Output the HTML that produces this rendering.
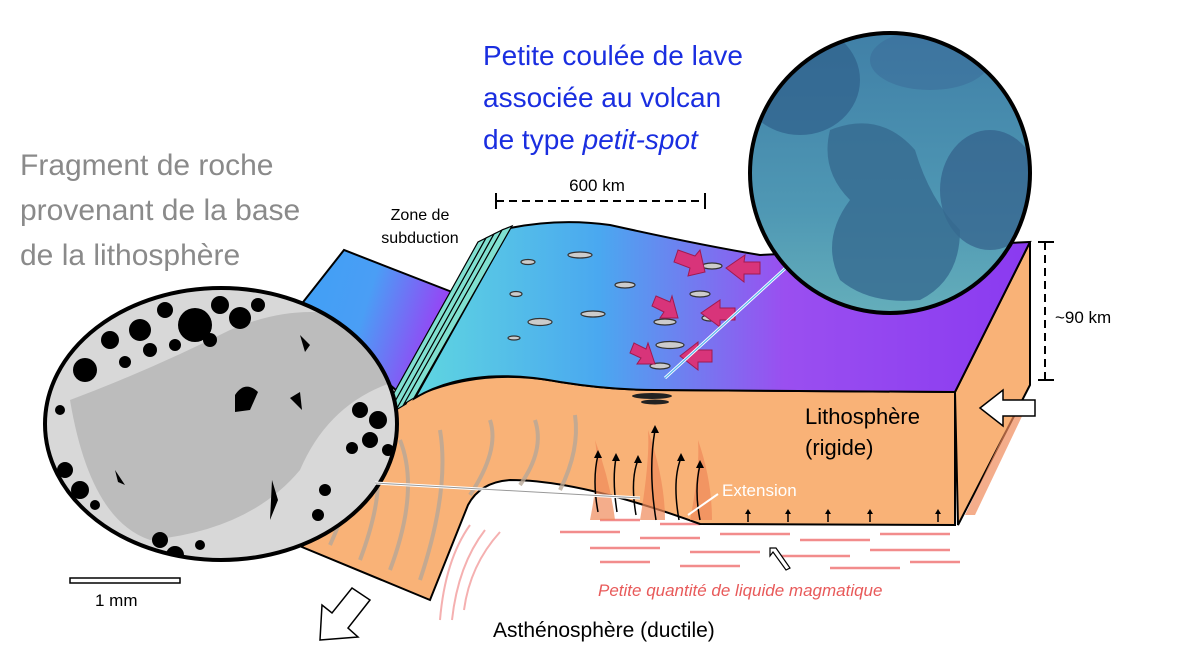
<!DOCTYPE html>
<html><head><meta charset="utf-8"><style>
html,body{margin:0;padding:0;background:#fff;}
svg{display:block;}
text{font-family:"Liberation Sans",sans-serif;}
</style></head><body>
<svg width="1195" height="671" viewBox="0 0 1195 671" xmlns="http://www.w3.org/2000/svg">
<defs>
<linearGradient id="top" x1="0" y1="0" x2="1" y2="0">
<stop offset="0" stop-color="#5fd6e0"/><stop offset="0.3" stop-color="#4aa8f0"/><stop offset="0.6" stop-color="#9a4ff0"/><stop offset="1" stop-color="#8a3af0"/></linearGradient>
<linearGradient id="lt" x1="0" y1="0" x2="1" y2="0.3">
<stop offset="0" stop-color="#3fa0f5"/><stop offset="0.5" stop-color="#4a9ef5"/><stop offset="1" stop-color="#9a40f5"/></linearGradient>
<linearGradient id="photo" x1="0" y1="0" x2="0" y2="1">
<stop offset="0" stop-color="#3f7ea6"/><stop offset="0.6" stop-color="#4f98b4"/><stop offset="1" stop-color="#6ab4bc"/></linearGradient>
<clipPath id="c1"><ellipse cx="221" cy="424" rx="176" ry="136"/></clipPath>
<clipPath id="c2"><circle cx="890" cy="173" r="140"/></clipPath>
</defs>

<!-- asthenosphere pink streaks -->
<g stroke="#f07070" stroke-width="2.5" opacity="0.8">
<line x1="560" y1="532" x2="620" y2="532"/><line x1="640" y1="538" x2="700" y2="538"/><line x1="720" y1="534" x2="790" y2="534"/>
<line x1="800" y1="540" x2="870" y2="540"/><line x1="880" y1="534" x2="950" y2="534"/><line x1="590" y1="548" x2="660" y2="548"/>
<line x1="690" y1="552" x2="760" y2="552"/><line x1="780" y1="556" x2="850" y2="556"/><line x1="870" y1="550" x2="950" y2="550"/>
<line x1="600" y1="562" x2="650" y2="562"/><line x1="680" y1="566" x2="740" y2="566"/><line x1="830" y1="568" x2="900" y2="568"/>
<line x1="910" y1="562" x2="960" y2="562"/><line x1="600" y1="520" x2="640" y2="520"/><line x1="660" y1="524" x2="700" y2="524"/>
</g>
<g stroke="#f5b0b0" stroke-width="2" fill="none">
<path d="M470 525 Q445 560 440 620"/><path d="M485 530 Q458 565 452 620"/><path d="M500 532 Q470 565 464 610"/>
</g>

<!-- left top slab -->
<polygon points="300,306 344,250 452,292 405,398" fill="url(#lt)" stroke="#000" stroke-width="2"/>

<!-- orange front face -->
<path d="M398,405 Q470,365 560,382 Q610,390 655,390 L955,392 L955,525 L700,524 Q580,480 510,480 Q480,482 468,505 L430,600 L302,547 L360,440 Z" fill="#f9b277" stroke="#000" stroke-width="2"/>
<!-- right face -->
<polygon points="955,392 1030,242 1030,385 958,525" fill="#f9b277" stroke="#000" stroke-width="2"/>
<!-- flame textures -->
<g fill="#f08a5a" opacity="0.7">
<path d="M590 520 Q600 470 595 440 Q610 480 615 520Z"/><path d="M640 520 Q650 460 648 430 Q665 480 665 520Z"/>
<path d="M690 520 Q700 470 698 440 Q712 480 712 520Z"/><path d="M965 515 L1020 400 L1025 410 L975 515Z"/>
</g>
<g stroke="#b8a898" stroke-width="4" fill="none" opacity="0.8">
<path d="M330 545 Q360 480 345 450"/><path d="M360 560 Q390 480 370 445"/><path d="M390 570 Q420 490 400 440"/>
<path d="M420 580 Q450 490 440 430"/><path d="M470 495 Q500 450 490 420"/><path d="M520 485 Q545 450 535 420"/><path d="M560 490 Q580 450 575 415"/>
</g>
<!-- up arrows -->
<g stroke="#000" stroke-width="1.5" fill="none">
<path d="M598 512 Q592 480 598 455"/><path d="M617 512 Q612 480 616 458"/><path d="M636 515 Q630 480 638 460"/>
<path d="M656 520 Q648 470 655 430"/><path d="M679 520 Q672 480 681 458"/><path d="M700 520 Q694 490 700 465"/>
<line x1="748" y1="522" x2="748" y2="512"/><line x1="788" y1="522" x2="788" y2="512"/><line x1="828" y1="522" x2="828" y2="512"/><line x1="870" y1="522" x2="870" y2="512"/><line x1="938" y1="522" x2="938" y2="512"/>
</g>
<g fill="#000">
<polygon points="598,450 594,458 602,458"/><polygon points="616,453 612,461 620,461"/><polygon points="638,455 634,463 642,463"/>
<polygon points="655,425 651,433 659,433"/><polygon points="681,453 677,461 685,461"/><polygon points="700,460 696,468 704,468"/>
<polygon points="748,509 745,514 751,514"/><polygon points="788,509 785,514 791,514"/><polygon points="828,509 825,514 831,514"/><polygon points="870,509 867,514 873,514"/><polygon points="938,509 935,514 941,514"/>
</g>

<!-- top surface -->
<path d="M415,398 L510,228 Q560,218 610,225 Q700,245 760,255 L1030,242 L955,392 L655,390 Q610,390 560,382 Q470,365 415,398 Z" fill="url(#top)" stroke="#000" stroke-width="2"/>
<!-- trench walls -->
<g fill="#80e0d0" stroke="#000" stroke-width="1.2">
<polygon points="380,418 478,242 486,238 390,412"/>
<polygon points="388,414 486,238 494,234 398,408"/>
<polygon points="396,410 494,234 502,230 406,404"/>
<polygon points="404,404 502,230 512,226 414,398"/>
</g>
<!-- lava blobs -->
<g fill="#ccc" stroke="#333" stroke-width="1.2">
<ellipse cx="580" cy="255" rx="12" ry="3"/><ellipse cx="528" cy="262" rx="7" ry="2.5"/><ellipse cx="625" cy="285" rx="10" ry="3"/>
<ellipse cx="516" cy="294" rx="6" ry="2.5"/><ellipse cx="540" cy="322" rx="12" ry="3.5"/><ellipse cx="593" cy="314" rx="12" ry="3"/>
<ellipse cx="514" cy="338" rx="6" ry="2"/><ellipse cx="712" cy="266" rx="10" ry="3"/><ellipse cx="690" cy="260" rx="8" ry="2.5"/>
<ellipse cx="700" cy="294" rx="10" ry="3"/><ellipse cx="665" cy="322" rx="11" ry="3"/><ellipse cx="670" cy="345" rx="14" ry="3.5"/>
<ellipse cx="660" cy="366" rx="10" ry="3"/><ellipse cx="710" cy="318" rx="8" ry="3"/>
</g>
<g fill="#222"><ellipse cx="652" cy="396" rx="20" ry="3"/><ellipse cx="655" cy="402" rx="14" ry="2.5"/></g>
<!-- magenta arrows -->
<g fill="#d8347a" stroke="#a01a50" stroke-width="1">
<polygon points="678,250 695,256 700,250 705,272 688,276 690,268 674,262"/>
<polygon points="760,262 744,262 745,255 726,268 744,282 744,274 760,274"/>
<polygon points="656,296 670,302 672,296 678,318 660,318 664,312 652,306"/>
<polygon points="735,308 720,308 720,300 701,313 720,327 720,320 735,320"/>
<polygon points="634,343 646,349 648,343 655,364 637,364 641,358 630,353"/>
<polygon points="712,350 698,350 698,342 680,356 698,370 698,362 712,362"/>
</g>
<line x1="812" y1="244" x2="665" y2="378" stroke="#fff" stroke-width="3"/>
<line x1="812" y1="244" x2="665" y2="378" stroke="#5ab8f0" stroke-width="1.2"/>

<!-- right photo circle -->
<g clip-path="url(#c2)">
<rect x="740" y="20" width="300" height="320" fill="url(#photo)"/>
<ellipse cx="800" cy="80" rx="60" ry="55" fill="#2f5f8a" opacity="0.7"/>
<ellipse cx="990" cy="190" rx="50" ry="60" fill="#335f8a" opacity="0.7"/>
<path d="M830 130 Q880 110 915 150 Q930 200 960 230 Q960 280 920 300 Q870 305 840 280 Q820 240 850 200 Q820 170 830 130Z" fill="#366a90" opacity="0.8"/>
<ellipse cx="930" cy="60" rx="60" ry="30" fill="#3a6a98" opacity="0.5"/>
</g>
<circle cx="890" cy="173" r="140" fill="none" stroke="#000" stroke-width="4"/>

<!-- left rock photo -->
<g clip-path="url(#c1)">
<rect x="40" y="285" width="365" height="280" fill="#d8d8d8"/>
<path d="M70 400 Q150 370 230 330 Q300 300 360 320 L400 380 Q330 400 300 470 Q250 530 150 540 Q90 520 70 400Z" fill="#bcbcbc"/>
<g fill="#000">
<circle cx="85" cy="370" r="12"/><circle cx="110" cy="340" r="9"/><circle cx="140" cy="330" r="11"/><circle cx="165" cy="310" r="8"/>
<circle cx="195" cy="325" r="17"/><circle cx="220" cy="305" r="9"/><circle cx="240" cy="318" r="11"/><circle cx="258" cy="305" r="7"/>
<circle cx="150" cy="350" r="7"/><circle cx="175" cy="345" r="6"/><circle cx="125" cy="362" r="6"/><circle cx="210" cy="340" r="7"/>
<circle cx="60" cy="410" r="5"/><circle cx="65" cy="470" r="8"/><circle cx="80" cy="490" r="9"/><circle cx="62" cy="500" r="6"/>
<circle cx="95" cy="505" r="5"/><circle cx="360" cy="410" r="8"/><circle cx="378" cy="420" r="9"/><circle cx="370" cy="440" r="8"/>
<circle cx="388" cy="450" r="6"/><circle cx="352" cy="448" r="6"/><circle cx="325" cy="490" r="6"/><circle cx="318" cy="515" r="6"/>
<circle cx="160" cy="540" r="8"/><circle cx="175" cy="555" r="9"/><circle cx="200" cy="545" r="5"/>
<path d="M235 395 Q245 380 258 392 L250 410 L235 412Z"/><path d="M300 335 L310 345 L305 352Z"/><path d="M290 398 L300 392 L302 410Z"/>
<path d="M272 480 L278 500 L270 520 Z"/><path d="M115 470 L125 485 L118 482Z"/>
</g>
</g>
<ellipse cx="221" cy="424" rx="176" ry="136" fill="none" stroke="#000" stroke-width="4"/>
<line x1="375" y1="483" x2="640" y2="498" stroke="#fff" stroke-width="3"/>
<line x1="375" y1="483" x2="640" y2="498" stroke="#999" stroke-width="1"/>
<line x1="718" y1="494" x2="688" y2="515" stroke="#fff" stroke-width="2"/>

<!-- hollow arrows -->
<polygon points="980,408 1003,390 1003,400 1035,400 1035,416 1003,416 1003,426" fill="#fff" stroke="#000" stroke-width="1.5"/>
<polygon points="320,640 358,637 348,628 370,600 352,588 332,613 322,605" fill="#fff" stroke="#000" stroke-width="1.5"/>
<polygon points="770,548 776,548 790,568 786,570 773,552 770,556" fill="#fff" stroke="#000" stroke-width="1.2"/>

<!-- measurement lines -->
<line x1="496" y1="201" x2="705" y2="201" stroke="#000" stroke-width="2" stroke-dasharray="8,5"/>
<line x1="496" y1="193" x2="496" y2="209" stroke="#000" stroke-width="2"/><line x1="705" y1="193" x2="705" y2="209" stroke="#000" stroke-width="2"/>
<line x1="1045" y1="242" x2="1045" y2="380" stroke="#000" stroke-width="2" stroke-dasharray="8,5"/>
<line x1="1038" y1="242" x2="1054" y2="242" stroke="#000" stroke-width="2"/><line x1="1038" y1="380" x2="1054" y2="380" stroke="#000" stroke-width="2"/>
<rect x="70" y="578" width="110" height="5" fill="#fff" stroke="#000" stroke-width="1.5"/>

<!-- texts -->
<g font-size="28" fill="#1a2ee0">
<text x="483" y="65">Petite coulée de lave</text>
<text x="483" y="107">associée au volcan</text>
<text x="483" y="149">de type <tspan font-style="italic">petit-spot</tspan></text>
</g>
<g font-size="30" fill="#8a8a8a">
<text x="20" y="175">Fragment de roche</text>
<text x="20" y="220">provenant de la base</text>
<text x="20" y="265">de la lithosphère</text>
</g>
<text x="597" y="191" font-size="17" text-anchor="middle">600 km</text>
<text x="420" y="220" font-size="16" text-anchor="middle">Zone de</text>
<text x="420" y="243" font-size="16" text-anchor="middle">subduction</text>
<text x="1055" y="323" font-size="17">~90 km</text>
<text x="95" y="606" font-size="17">1 mm</text>
<text x="805" y="424" font-size="22">Lithosphère</text>
<text x="805" y="455" font-size="22">(rigide)</text>
<text x="722" y="496" font-size="17" fill="#fff">Extension</text>
<text x="598" y="596" font-size="17" font-style="italic" fill="#e85a5a">Petite quantité de liquide magmatique</text>
<text x="493" y="637" font-size="21">Asthénosphère (ductile)</text>
</svg>
</body></html>
